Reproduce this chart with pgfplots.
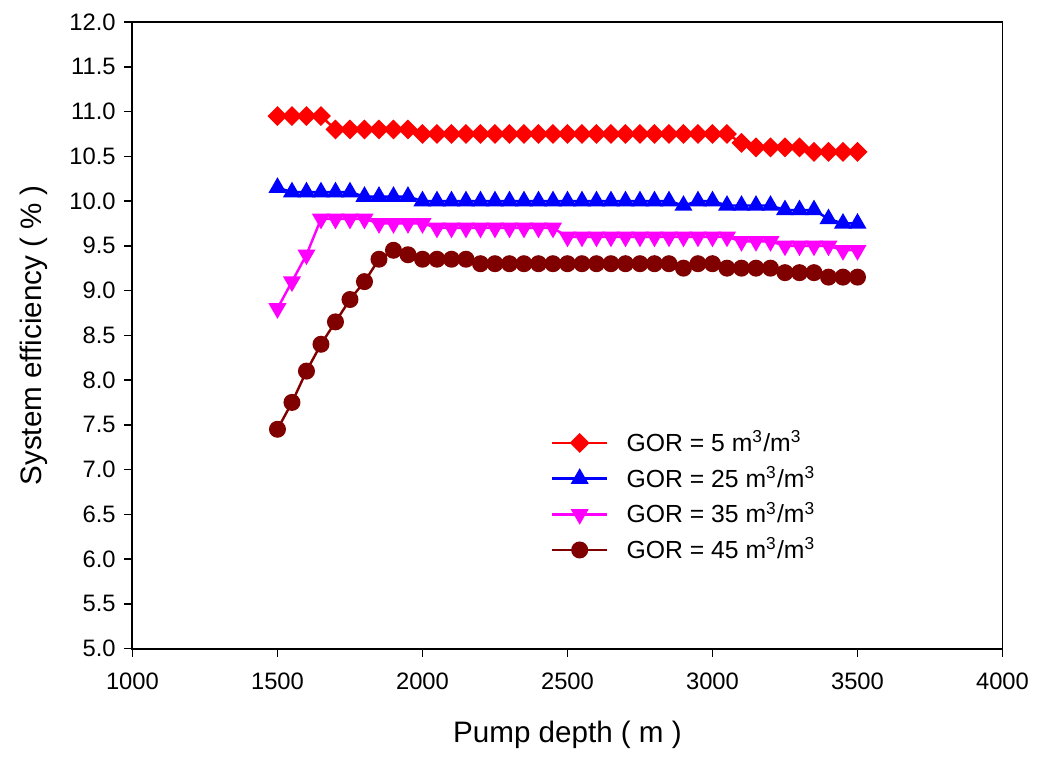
\documentclass[border=0pt]{standalone}
\usepackage{pgfplots}
\pgfplotsset{compat=1.18}
\usepackage{pgfplotstable}
\usepackage{fontspec}
\setmainfont{Liberation Sans}
\definecolor{cred}{RGB}{255,0,0}
\definecolor{cblue}{RGB}{0,0,255}
\definecolor{cmag}{RGB}{255,0,255}
\definecolor{cmar}{RGB}{128,0,0}
\pgfplotstableread{
x     a      b      c      d
1500  10.95  10.15  8.80   7.45
1550  10.95  10.10  9.10   7.75
1600  10.95  10.10  9.40   8.10
1650  10.95  10.10  9.80   8.40
1700  10.80  10.10  9.80   8.65
1750  10.80  10.10  9.80   8.90
1800  10.80  10.05  9.80   9.10
1850  10.80  10.05  9.75   9.35
1900  10.80  10.05  9.75   9.45
1950  10.80  10.05  9.75   9.40
2000  10.75  10.00  9.75   9.35
2050  10.75  10.00  9.70   9.35
2100  10.75  10.00  9.70   9.35
2150  10.75  10.00  9.70   9.35
2200  10.75  10.00  9.70   9.30
2250  10.75  10.00  9.70   9.30
2300  10.75  10.00  9.70   9.30
2350  10.75  10.00  9.70   9.30
2400  10.75  10.00  9.70   9.30
2450  10.75  10.00  9.70   9.30
2500  10.75  10.00  9.60   9.30
2550  10.75  10.00  9.60   9.30
2600  10.75  10.00  9.60   9.30
2650  10.75  10.00  9.60   9.30
2700  10.75  10.00  9.60   9.30
2750  10.75  10.00  9.60   9.30
2800  10.75  10.00  9.60   9.30
2850  10.75  10.00  9.60   9.30
2900  10.75  9.95   9.60   9.25
2950  10.75  10.00  9.60   9.30
3000  10.75  10.00  9.60   9.30
3050  10.75  9.95   9.60   9.25
3100  10.65  9.95   9.55   9.25
3150  10.60  9.95   9.55   9.25
3200  10.60  9.95   9.55   9.25
3250  10.60  9.90   9.50   9.20
3300  10.60  9.90   9.50   9.20
3350  10.55  9.90   9.50   9.20
3400  10.55  9.80   9.50   9.15
3450  10.55  9.75   9.45   9.15
3500  10.55  9.75   9.45   9.15
}\datatable
\begin{document}
\begin{tikzpicture}
\begin{axis}[
  name=ax,
  scale only axis,
  width=12.61cm, height=9.08cm,
  xmin=1000, xmax=4000, ymin=5, ymax=12,
  xtick={1000,1500,...,4000},
  ytick={5,5.5,...,12},
  tick align=outside, tick pos=left,
  major tick length=0.12cm,
  axis line style={line width=0.8pt},
  every tick/.style={black, line width=0.6pt},
  /pgf/number format/assume math mode=true,
  x tick label style={/pgf/number format/set thousands separator={}, font=\fontsize{9.8}{11}\selectfont, yshift=-3pt},
  y tick label style={/pgf/number format/.cd, fixed, fixed zerofill, precision=1, /tikz/.cd, font=\fontsize{9.8}{11}\selectfont},
  xlabel={Pump depth ( m )},
  ylabel={System efficiency ( \% )},
  label style={font=\fontsize{12.2}{14}\selectfont},
  xlabel style={yshift=-6pt},
  ylabel style={yshift=2pt},
  legend style={draw=none, fill=none, at={(0.472,0.364)}, anchor=north west,
    font=\fontsize{10.2}{12}\selectfont, row sep=0.6pt, cells={anchor=west},
    /tikz/every odd column/.append style={column sep=5.5pt}},
  legend image code/.code={\draw[mark repeat=2,mark phase=2] plot coordinates {(0cm,0cm) (0.4cm,0cm) (0.8cm,0cm)};},
  every axis plot/.append style={line width=1pt},
]
\addplot[cred, mark=square*, mark size=2.4pt, mark options={rotate=45, solid}] table[x=x,y=a]{\datatable};
\addlegendentry{GOR = 5 m\textsuperscript{3}/m\textsuperscript{3}}
\addplot[cblue, mark=triangle*, mark size=3.3pt, mark options={solid}] table[x=x,y=b]{\datatable};
\addlegendentry{GOR = 25 m\textsuperscript{3}/m\textsuperscript{3}}
\addplot[cmag, mark=triangle*, mark size=3.3pt, mark options={rotate=180, solid}] table[x=x,y=c]{\datatable};
\addlegendentry{GOR = 35 m\textsuperscript{3}/m\textsuperscript{3}}
\addplot[cmar, mark=*, mark size=3.0pt, mark options={solid}] table[x=x,y=d]{\datatable};
\addlegendentry{GOR = 45 m\textsuperscript{3}/m\textsuperscript{3}}
\end{axis}
\path (ax.south west) ++(-1.92cm,-1.53cm) (ax.north east) ++(0.46cm,0.32cm);
\end{tikzpicture}
\end{document}
